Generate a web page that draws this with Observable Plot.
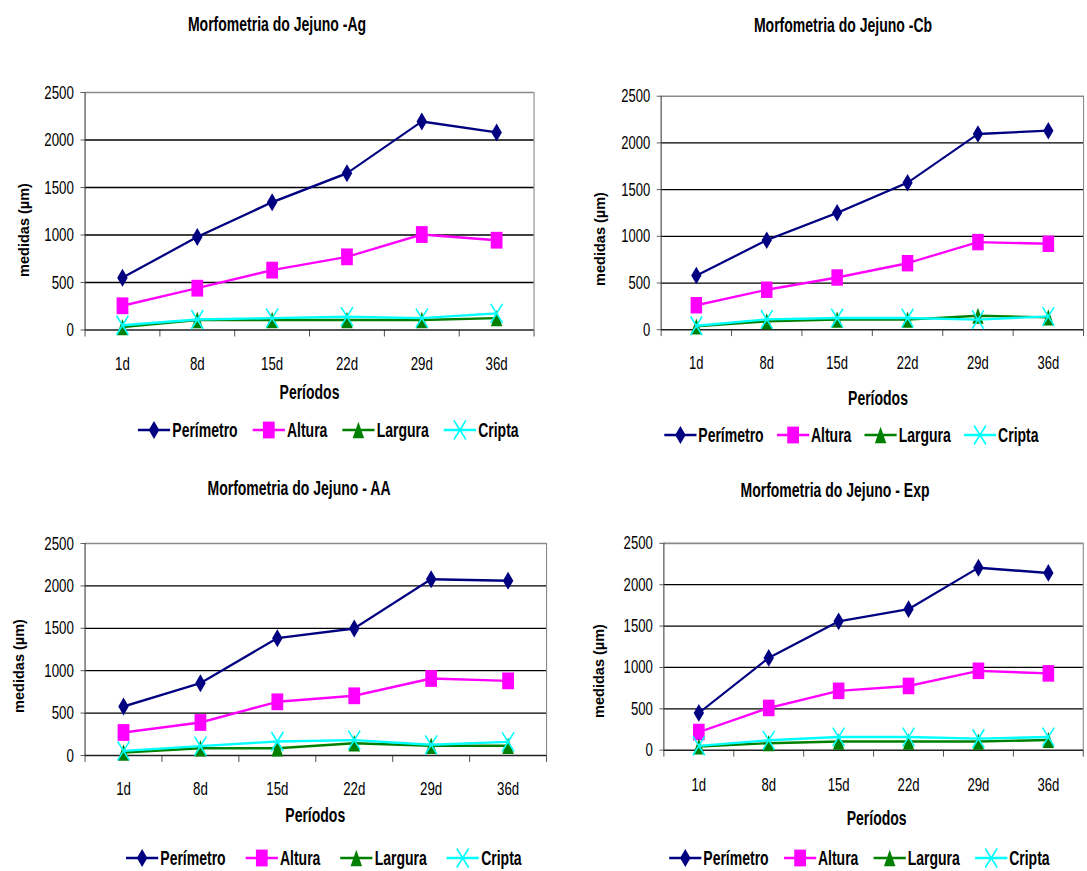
<!DOCTYPE html>
<html><head><meta charset="utf-8">
<script src="https://cdn.jsdelivr.net/npm/d3@7"></script>
<script src="https://cdn.jsdelivr.net/npm/@observablehq/plot@0.6"></script>
<style>
html,body{margin:0;padding:0;background:#fff;overflow:hidden;width:1087px;height:871px;position:relative;}
#root{position:absolute;left:0;top:0;width:1553px;height:871px;transform-origin:0 0;transform:scaleX(0.7);font-family:"Liberation Sans",Arial,sans-serif;color:#000;}
.abs{position:absolute;white-space:nowrap;}
.title{font-weight:bold;font-size:20px;transform:translate(-50%,-50%);}
.xtitle{font-weight:bold;font-size:20px;transform:translate(-50%,-50%);}
.ylab{position:absolute;font-family:"Liberation Sans",Arial,sans-serif;font-weight:bold;font-size:14.5px;white-space:nowrap;transform:translate(-50%,-50%) rotate(-90deg);color:#000;}
.legend{display:flex;align-items:center;transform:translateY(-50%);font-weight:bold;font-size:20px;}
.item{display:flex;align-items:center;}
</style></head><body><div id="root"></div><script>
// ---------- data ----------
const periods = ["1d", "8d", "15d", "22d", "29d", "36d"];
const seriesNames = ["Perímetro", "Altura", "Largura", "Cripta"];
const yTicks = [0, 500, 1000, 1500, 2000, 2500];

const perimetroAg = [550, 980, 1345, 1650, 2195, 2080];
const alturaAg    = [255, 440, 630, 770, 1005, 945];
const larguraAg   = [30, 105, 105, 105, 105, 125];
const criptaAg    = [50, 110, 125, 140, 125, 175];

const perimetroCb = [580, 958, 1252, 1574, 2096, 2131];
const alturaCb    = [262, 428, 559, 712, 938, 920];
const larguraCb   = [35, 90, 108, 108, 150, 132];
const criptaCb    = [42, 111, 125, 125, 108, 143];

const perimetroAA = [578, 853, 1384, 1498, 2079, 2060];
const alturaAA    = [271, 389, 633, 704, 908, 880];
const larguraAA   = [35, 86, 86, 145, 114, 114];
const criptaAA    = [55, 110, 165, 181, 126, 161];

const perimetroExp = [450, 1115, 1557, 1704, 2205, 2142];
const alturaExp    = [219, 510, 717, 776, 959, 928];
const larguraExp   = [44, 84, 104, 104, 104, 123];
const criptaExp    = [52, 119, 159, 159, 139, 159];

// ---------- styles ----------
const SX = 0.7;
const seriesColors = ["#000080", "#FF00FF", "#008000", "#00FFFF"];
function diamondSym(hw, hh) { return {draw(c) { c.moveTo(0, -hh); c.lineTo(hw, 0); c.lineTo(0, hh); c.lineTo(-hw, 0); c.closePath(); }}; }
function squareSym(h) { return {draw(c) { c.moveTo(-h, -h); c.lineTo(h, -h); c.lineTo(h, h); c.lineTo(-h, h); c.closePath(); }}; }
function triSym(hw, hh) { return {draw(c) { c.moveTo(0, -hh); c.lineTo(hw, hh); c.lineTo(-hw, hh); c.closePath(); }}; }
function xSym(hw, hh) { return {draw(c) { c.moveTo(-hw, -hh); c.lineTo(hw, hh); c.moveTo(hw, -hh); c.lineTo(-hw, hh); }}; }
const symbols = [diamondSym(7.5, 9), squareSym(8.4), triSym(8.2, 8.2), xSym(8.5, 9.5)];
const filled = [true, true, true, false];

const panels = [
  {title: "Morfometria do Jejuno -Ag", yTitle: "medidas (µm)", values: [perimetroAg, alturaAg, larguraAg, criptaAg],
   left: 85, right: 534, top: 92, bottom: 329.5, titleX: 277, titleY: 24, ylabX: 24, ylabY: 230, xPad: 27, perY: 392, legX: 138, legY: 430, legGap: 15},
  {title: "Morfometria do Jejuno -Cb", yTitle: "medidas (µm)", values: [perimetroCb, alturaCb, larguraCb, criptaCb],
   left: 662, right: 1094, top: 95.7, bottom: 334.5, titleX: 843, titleY: 25, ylabX: 600, ylabY: 239, xPad: 27, perY: 398, legX: 664, legY: 435, legGap: 13},
  {title: "Morfometria do Jejuno - AA", yTitle: "medidas (µm)", values: [perimetroAA, alturaAA, larguraAA, criptaAA],
   left: 84.5, right: 546, top: 542.7, bottom: 754.7, titleX: 299, titleY: 488, ylabX: 19, ylabY: 666, xPad: 26, perY: 815, legX: 126, legY: 858, legGap: 20},
  {title: "Morfometria do Jejuno - Exp", yTitle: "medidas (µm)", values: [perimetroExp, alturaExp, larguraExp, criptaExp],
   left: 664.3, right: 1089, top: 543.3, bottom: 752.7, titleX: 835, titleY: 490, ylabX: 599, ylabY: 671, xPad: 28, perY: 818, legX: 669, legY: 858, legGap: 15}
];

const root = document.getElementById("root");

function symPath(k) { const p = d3.path(); symbols[k].draw(p, 0); return p.toString(); }

panels.forEach(P => {
  const rows = [];
  periods.forEach((p, i) => seriesNames.forEach((s, k) => rows.push({period: p, idx: i, series: s, k, value: P.values[k][i]})));
  const pl = P.left / SX, pr = P.right / SX;
  const mL = 90, mR = 6, mT = 12, mB = 60;
  const width = (pr - pl) + mL + mR;
  const height = (P.bottom - P.top) + mT + mB;
  const xf = d => d.idx + 0.5;
  const marks = [
    Plot.ruleY(yTicks.filter(v => v > 0 && v < 2500), {stroke: "#000", strokeWidth: 1.3}),
    Plot.ruleY([2500], {stroke: "#8a8a8a", strokeWidth: 1.6}),
    Plot.ruleX([periods.length], {stroke: "#8a8a8a", strokeWidth: 1.6}),
    Plot.ruleX([0], {stroke: "#404040", strokeWidth: 1.6}),
    Plot.ruleY([0], {stroke: "#202020", strokeWidth: 1.5}),
    Plot.axisY({ticks: yTicks, tickSize: 6, tickPadding: 10, fontSize: 19, tickFormat: d => String(d), label: null, stroke: "#404040"}),
    Plot.axisX({ticks: d3.range(0, periods.length + 1), tickSize: 7, tickFormat: () => "", label: null, stroke: "#303030"}),
    Plot.axisX({ticks: periods.map((p, i) => i + 0.5), tickSize: 0, tickPadding: P.xPad, fontSize: 19, tickFormat: d => periods[Math.round(d - 0.5)], label: null})
  ];
  seriesNames.forEach((s, k) => {
    const data = rows.filter(r => r.k === k);
    marks.push(Plot.line(data, {x: xf, y: "value", stroke: seriesColors[k], strokeWidth: 2.4}));
    marks.push(Plot.dot(data, filled[k]
      ? {x: xf, y: "value", symbol: symbols[k], r: 8, fill: seriesColors[k], stroke: "none"}
      : {x: xf, y: "value", symbol: symbols[k], r: 8, fill: "none", stroke: seriesColors[k], strokeWidth: 2}));
  });
  const svg = Plot.plot({
    width, height, marginLeft: mL, marginRight: mR, marginTop: mT, marginBottom: mB,
    x: {domain: [0, periods.length], axis: null},
    y: {domain: [0, 2500], axis: null},
    style: {fontFamily: "'Liberation Sans', Arial, sans-serif", color: "#000", background: "transparent", overflow: "visible"},
    marks
  });
  const wrap = document.createElement("div");
  wrap.className = "abs";
  wrap.style.left = (pl - mL) + "px";
  wrap.style.top = (P.top - mT) + "px";
  wrap.appendChild(svg);
  root.appendChild(wrap);

  const t = document.createElement("div");
  t.className = "abs title";
  t.style.left = (P.titleX / SX) + "px"; t.style.top = P.titleY + "px";
  t.textContent = P.title;
  root.appendChild(t);

  const xt = document.createElement("div");
  xt.className = "abs xtitle";
  xt.style.left = ((pl + pr) / 2) + "px"; xt.style.top = P.perY + "px";
  xt.textContent = "Períodos";
  root.appendChild(xt);

  const yl = document.createElement("div");
  yl.className = "ylab";
  yl.style.left = P.ylabX + "px"; yl.style.top = P.ylabY + "px";
  yl.textContent = P.yTitle;
  document.body.appendChild(yl);

  const lg = document.createElement("div");
  lg.className = "abs legend";
  lg.style.left = (P.legX / SX) + "px"; lg.style.top = P.legY + "px";
  seriesNames.forEach((s, k) => {
    const w = 46, h = 24;
    const it = document.createElement("div");
    it.className = "item";
    if (k < seriesNames.length - 1) it.style.marginRight = (P.legGap / SX) + "px";
    const st = filled[k] ? `fill="${seriesColors[k]}"` : `fill="none" stroke="${seriesColors[k]}" stroke-width="2"`;
    it.innerHTML = `<svg width="${w}" height="${h}" style="display:block;overflow:visible"><line x1="0" y1="${h/2}" x2="${w}" y2="${h/2}" stroke="${seriesColors[k]}" stroke-width="2.4"/><path transform="translate(${w/2},${h/2})" d="${symPath(k)}" ${st}/></svg><span style="margin-left:3px">${s}</span>`;
    lg.appendChild(it);
  });
  root.appendChild(lg);
});
</script></body></html>
